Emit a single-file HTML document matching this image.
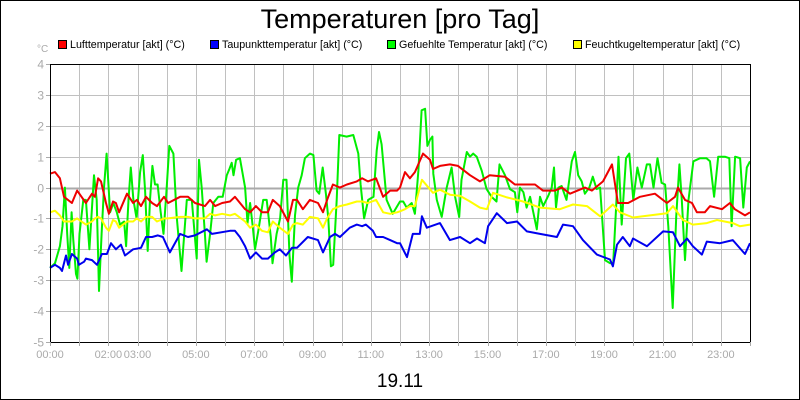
<!DOCTYPE html>
<html><head><meta charset="utf-8"><style>
html,body{margin:0;padding:0;background:#fff;}
svg{display:block;font-family:"Liberation Sans",sans-serif;}
</style></head><body>
<svg id="chart" width="800" height="400" viewBox="0 0 800 400">
<rect x="0.5" y="0.5" width="799" height="399" fill="#fff" stroke="#000"/>
<text x="400" y="28" text-anchor="middle" font-size="27" fill="#000">Temperaturen [pro Tag]</text>
<g font-size="10.7" fill="#000">
 <g><rect x="58.5" y="40.5" width="8" height="8" fill="#f00" stroke="#000"/><text x="70" y="48">Lufttemperatur [akt] (°C)</text></g>
 <g><rect x="210.5" y="40.5" width="8" height="8" fill="#00f" stroke="#000"/><text x="222" y="48">Taupunkttemperatur [akt] (°C)</text></g>
 <g><rect x="387.5" y="40.5" width="8" height="8" fill="#0f0" stroke="#000"/><text x="399" y="48">Gefuehlte Temperatur [akt] (°C)</text></g>
 <g><rect x="573.5" y="40.5" width="8" height="8" fill="#ff0" stroke="#000"/><text x="585" y="48">Feuchtkugeltemperatur [akt] (°C)</text></g>
</g>
<text x="37" y="52" font-size="10" fill="#aaa">°C</text>
<g id="grid"></g>
<g id="series"></g>
<rect x="50.5" y="64.5" width="700" height="278" fill="none" stroke="#000"/>
<g id="axes" font-size="11" fill="#aaa"></g>
<text x="400" y="387" text-anchor="middle" font-size="19" fill="#000">19.11</text>
</svg>
<script>
const yTicks=[4,3,2,1,0,-1,-2,-3,-4,-5];
const xTickHours=[0,2,3,5,7,9,11,13,15,17,19,21,23];
const xTickLabels=["00:00","02:00","03:00","05:00","07:00","09:00","11:00","13:00","15:00","17:00","19:00","21:00","23:00"];

const redT=[0,.17,.34,.48,.75,.93,1.23,1.44,1.54,1.65,1.75,1.92,2.02,2.16,2.26,2.37,2.64,2.85,2.98,3.12,3.29,3.5,3.67,3.91,4.05,4.46,4.73,4.97,5.31,5.49,5.66,5.9,6.17,6.34,6.69,6.86,7.06,7.27,7.47,7.64,7.88,8.16,8.33,8.47,8.67,8.91,9.19,9.36,9.5,9.7,9.94,10.18,10.52,10.7,10.9,11.18,11.42,11.66,11.9,12.0,12.17,12.34,12.51,12.79,13.03,13.13,13.37,13.71,13.99,14.4,14.74,15.08,15.6,15.94,16.46,16.63,16.9,17.31,17.55,17.83,18.34,18.58,18.96,19.27,19.47,19.82,20.23,20.74,21.15,21.43,21.53,21.77,22.01,22.18,22.45,22.63,23.04,23.31,23.48,23.83,24];
const redV=[0.45,0.5,0.3,-0.3,-0.5,-0.1,-0.5,-0.2,-0.3,0.3,0.2,-0.5,-0.85,-0.45,-0.5,-0.8,-0.2,-0.5,-0.4,-0.6,-0.3,-0.5,-0.6,-0.3,-0.5,-0.3,-0.3,-0.5,-0.6,-0.4,-0.6,-0.5,-0.45,-0.3,-0.7,-0.8,-0.6,-0.8,-0.8,-0.4,-0.6,-1.1,-0.4,-0.4,-0.7,-0.4,-0.5,-0.8,-0.4,0.1,0.0,0.1,0.2,0.3,0.2,0.3,-0.3,-0.1,-0.1,0.0,0.5,0.3,0.5,1.1,0.9,0.6,0.7,0.75,0.7,0.4,0.2,0.4,0.35,0.1,0.1,0.1,-0.1,-0.1,0.0,-0.2,0.0,-0.1,0.2,0.75,-0.5,-0.5,-0.3,-0.2,-0.5,-0.3,0.0,-0.4,-0.5,-0.8,-0.8,-0.6,-0.7,-0.5,-0.7,-0.9,-0.8];

const yelT=[0,.17,.34,.48,.75,.93,1.23,1.44,1.54,1.65,1.75,1.92,2.02,2.16,2.26,2.37,2.64,2.85,2.98,3.12,3.29,3.5,3.67,3.91,4.05,4.46,4.73,4.97,5.31,5.49,5.66,5.9,6.17,6.34,6.69,6.86,7.06,7.27,7.47,7.64,7.88,8.16,8.33,8.47,8.67,8.91,9.19,9.36,9.5,9.7,9.94,10.18,10.52,10.7,10.9,11.18,11.42,11.66,11.9,12.0,12.17,12.34,12.51,12.75,13.13,13.37,13.71,14.06,14.4,14.74,14.98,15.19,15.67,16.22,16.8,17.48,17.93,18.41,18.86,19.3,19.54,19.99,20.57,21.15,21.36,21.7,22.04,22.52,22.87,23.41,23.65,24];
const yelV=[-0.8,-0.75,-0.9,-1.1,-1.1,-1.0,-1.2,-1.1,-1.0,-0.95,-1.0,-1.3,-1.4,-1.05,-1.1,-1.3,-1.1,-1.1,-1.0,-1.1,-0.95,-0.95,-1.1,-1.0,-1.0,-0.95,-0.95,-1.0,-1.0,-0.85,-0.9,-0.85,-0.9,-0.85,-1.1,-1.3,-1.2,-1.4,-1.45,-1.1,-1.3,-1.5,-1.2,-1.15,-1.2,-0.95,-1.0,-1.3,-1.0,-0.7,-0.6,-0.55,-0.45,-0.45,-0.5,-0.4,-0.8,-0.85,-0.8,-0.77,-0.7,-0.6,-0.6,0.25,-0.17,-0.07,-0.23,-0.27,-0.45,-0.65,-0.7,-0.17,-0.32,-0.45,-0.65,-0.7,-0.55,-0.6,-0.93,-0.55,-0.8,-0.97,-0.9,-0.83,-0.6,-1.05,-1.2,-1.15,-1.05,-1.15,-1.25,-1.2];

const bluT=[0,.17,.34,.41,.55,.62,.75,.93,.99,1.17,1.23,1.44,1.61,1.78,1.95,2.09,2.26,2.43,2.57,2.85,3.12,3.29,3.5,3.7,3.87,4.11,4.46,4.73,4.97,5.38,5.55,6.17,6.34,6.51,6.69,6.86,7.06,7.27,7.47,7.71,7.88,8.09,8.3,8.47,8.84,9.19,9.36,9.6,9.77,9.94,10.28,10.52,10.7,10.83,11.07,11.18,11.42,11.66,11.9,12.0,12.24,12.44,12.68,12.75,12.92,13.37,13.71,14.06,14.4,14.64,14.91,15.02,15.32,15.67,16.01,16.35,16.8,17.38,17.59,17.93,18.27,18.75,19.2,19.3,19.44,19.64,19.88,19.99,20.47,21.02,21.36,21.6,21.84,22.04,22.35,22.52,22.97,23.41,23.83,24];
const bluV=[-2.6,-2.5,-2.6,-2.7,-2.2,-2.5,-2.15,-2.3,-2.5,-2.4,-2.3,-2.35,-2.5,-2.15,-2.15,-1.8,-2.0,-1.85,-2.2,-2.0,-1.95,-1.6,-1.6,-1.55,-1.6,-2.1,-1.5,-1.6,-1.55,-1.35,-1.5,-1.4,-1.4,-1.6,-1.9,-2.3,-2.1,-2.3,-2.3,-2.1,-2.0,-2.2,-1.95,-1.95,-1.6,-1.7,-2.1,-1.6,-1.5,-1.6,-1.3,-1.2,-1.25,-1.2,-1.4,-1.6,-1.6,-1.7,-1.8,-1.8,-2.25,-1.5,-1.5,-0.93,-1.3,-1.15,-1.7,-1.6,-1.8,-1.65,-1.8,-1.25,-0.83,-1.15,-1.1,-1.42,-1.5,-1.6,-1.2,-1.25,-1.7,-2.17,-2.33,-2.55,-1.85,-1.6,-1.9,-1.65,-1.9,-1.42,-1.45,-1.9,-1.65,-1.9,-2.17,-1.75,-1.8,-1.7,-2.15,-1.8];

const grnT=[0,.17,.34,.43,.51,.59,.66,.74,.8,.89,.94,1.01,1.14,1.23,1.35,1.51,1.6,1.68,1.77,1.85,1.94,2.06,2.17,2.29,2.4,2.54,2.61,2.69,2.77,2.86,2.97,3.09,3.18,3.26,3.35,3.43,3.51,3.6,3.69,3.79,3.89,4.0,4.09,4.23,4.34,4.51,4.69,4.86,5.03,5.11,5.2,5.31,5.37,5.49,5.6,5.77,5.92,6.06,6.15,6.23,6.29,6.38,6.51,6.69,6.77,6.86,6.95,7.03,7.14,7.31,7.43,7.57,7.63,7.77,7.89,8.0,8.11,8.21,8.29,8.4,8.51,8.63,8.74,8.91,9.03,9.14,9.23,9.35,9.46,9.54,9.63,9.71,9.83,9.92,10.17,10.4,10.57,10.65,10.77,10.91,11.09,11.2,11.28,11.37,11.54,11.75,12.0,12.11,12.23,12.4,12.51,12.63,12.74,12.86,12.94,13.03,13.11,13.14,13.26,13.43,13.6,13.77,13.89,14.03,14.11,14.29,14.4,14.51,14.63,14.8,14.97,15.14,15.31,15.41,15.6,15.77,15.94,16.02,16.11,16.23,16.34,16.46,16.57,16.69,16.8,16.91,17.09,17.2,17.28,17.35,17.43,17.54,17.71,17.89,18.0,18.11,18.23,18.34,18.49,18.61,18.74,18.86,19.03,19.2,19.31,19.41,19.49,19.6,19.75,19.86,20.0,20.14,20.29,20.46,20.57,20.69,20.83,20.97,21.09,21.2,21.35,21.47,21.58,21.66,21.77,21.89,22.06,22.29,22.43,22.51,22.63,22.77,22.91,23.14,23.29,23.37,23.49,23.66,23.77,23.89,24];
const grnV=[-2.6,-2.45,-1.9,-1.25,0,-1.5,-2.6,-0.8,-1.7,-2.8,-2.95,-1.5,-0.4,-0.4,-2.0,0.4,-0.4,-3.35,-1.5,0.0,1.1,-0.8,-0.5,-0.8,-1.2,-1.1,-1.9,-0.4,0.65,-0.4,-1.0,0.5,1.05,-0.1,-2.05,-0.4,0.7,0.1,0.1,-0.75,-1.5,0,1.35,1.1,-0.9,-2.7,-0.4,-0.4,-2.3,0.9,0,-1.5,-2.4,-1.5,-0.5,-0.3,-0.3,0.4,0.6,0.8,0.4,0.9,0.95,0,-1.15,-0.5,-1.25,-2.0,-1.4,-0.4,-0.4,-1.6,-2.45,-1.5,-1.0,0.25,0.25,-2.2,-3.05,-0.9,0,0.4,0.95,1.1,1.05,-0.1,-0.2,0.65,-0.2,-1.0,-2.55,-2.5,-0.4,1.7,1.65,1.7,1.1,0.1,-1.0,-0.4,-0.3,1.2,1.8,1.4,-0.4,-0.85,-0.45,-0.45,-0.65,-0.5,-0.85,0.55,2.5,2.55,1.35,1.55,1.65,0.45,-0.4,-0.95,0,0.65,-0.3,-0.95,0.25,1.15,1.0,1.1,1.0,0.55,-0.05,-0.3,-0.45,0.75,0.4,-0.05,-0.15,-0.8,0,-0.15,-0.65,-0.3,-0.8,-1.35,-0.3,-0.6,-0.25,0,0.65,-0.65,0,0.05,-0.4,0.85,1.15,0.4,0.2,-0.2,0,0.35,-0.05,0,-2.35,-2.45,-2.45,-0.65,1.0,-1.2,0.95,1.1,-0.4,0.65,0,0.75,0.75,0,0.95,0.15,0.1,-1.25,-3.9,-0.95,0.75,-0.4,-2.35,-0.4,0.85,0.95,0.95,0.95,0.85,-0.3,1.0,1.0,0.95,-1.25,1.0,0.95,-0.65,0.65,0.85];

const NS="http://www.w3.org/2000/svg";
const L=50,R=750,T=64,B=342,yMin=-5,yMax=4;
function xs(h){return L+(h/24)*(R-L);}
function ys(v){return T+(yMax-v)/(yMax-yMin)*(B-T);}
const grid=document.getElementById('grid'),axes=document.getElementById('axes'),series=document.getElementById('series');
function mk(tag,attrs,parent){const e=document.createElementNS(NS,tag);for(const k in attrs)e.setAttribute(k,attrs[k]);parent.appendChild(e);return e;}
for(let h=1;h<24;h++){
  const x=Math.round(xs(h))+0.5;
  const gl=mk('line',{x1:x,x2:x,y1:T,y2:B,stroke:'#c0c0c0','stroke-width':1},grid);
  
  
}
for(let h=0;h<=24;h++){
  const x=Math.round(xs(h))+0.5;
  const tk=mk('line',{x1:x,x2:x,y1:B,y2:B+4,stroke:'#aaa','stroke-width':1},axes);
  
  
}
yTicks.forEach(v=>{
  const y=Math.round(ys(v))+0.5;
  if(v!==4&&v!==-5){
    const gl=mk('line',{x1:L,x2:R,y1:y,y2:y,stroke:v===0?'#aaa':'#c0c0c0','stroke-width':v===0?2:1},grid);
    
    
  }
  const tk=mk('line',{x1:L-4,x2:L,y1:y,y2:y,stroke:'#aaa'},axes);
  
  
  const t=mk('text',{x:L-6,y:y+4,'text-anchor':'end','font-size':12},axes);
  t.textContent=String(v);
  
  
});
xTickHours.forEach((h,i)=>{
  const t=mk('text',{x:xs(h),y:358,'text-anchor':'middle'},axes);
  t.textContent=xTickLabels[i];
  
  
});
function line(T_,V,color,name){
  const d=T_.map((t,i)=>(i?'L':'M')+xs(t).toFixed(1)+','+ys(V[i]).toFixed(1)).join('');
  const p=mk('path',{d:d,fill:'none',stroke:color,'stroke-width':2,'stroke-linejoin':'round'},series);
  
  
}
line(grnT,grnV,'#00ee00','series-gefuehlte-temperatur');
line(yelT,yelV,'#ffff00','series-feuchtkugeltemperatur');
line(bluT,bluV,'#0000ee','series-taupunkttemperatur');
line(redT,redV,'#ee0000','series-lufttemperatur');
</script>
</body></html>
